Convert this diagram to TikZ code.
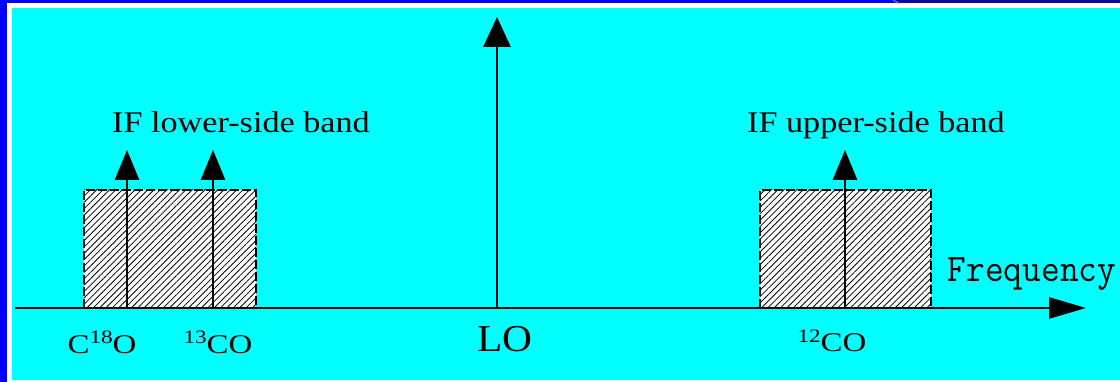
\documentclass[tikz,border=0pt]{standalone}
\usepackage{fontspec}
\setmainfont{Liberation Serif}
\usetikzlibrary{arrows.meta,patterns.meta}
\definecolor{bgcyan}{RGB}{0,255,255}
\definecolor{frameblue}{RGB}{0,0,250}
\definecolor{framenavy}{RGB}{10,10,160}
\newcommand{\mysup}[1]{\raisebox{0.36em}{\fontsize{19}{19}\selectfont #1}}
\newcommand{\lbl}[2]{\scalebox{#1}[1]{\fontsize{27}{27}\selectfont #2}}
\begin{document}
\begin{tikzpicture}[x=1pt,y=-1pt,
  band/.style={fill=white,pattern={Lines[angle=45,distance=4.5pt,line width=0.8pt]},pattern color=black},
  bandedge/.style={draw=black,line width=2.2pt,dash pattern=on 9pt off 3pt},
  line/.style={draw=black,line width=2.8pt},
  sarrow/.style={line,-{Triangle[length=30pt,width=24pt]}},
  larrow/.style={line,-{Triangle[length=30pt,width=27pt]}},
  axarrow/.style={line,-{Triangle[length=37pt,width=21pt]}},
  txt/.style={inner sep=0pt,anchor=base}]
\useasboundingbox (0,0) rectangle (1120,382);
% frame
\fill[white] (0,0) rectangle (1120,382);
\fill[frameblue] (0,0) rectangle (7,382);
\fill[frameblue] (0,0) rectangle (897,3.3);
\fill[framenavy] (897,0) rectangle (1120,3.3);
\draw[color={rgb,255:red,80;green,130;blue,255},line width=1.2pt] (893,0) -- (899,3.3);
\fill[bgcyan] (12,8.3) rectangle (1120,380);
% bands
\fill[white] (84,190) rectangle (256,308);
\fill[band] (84,190) rectangle (256,308);
\draw[bandedge] (84,308) -- (84,190) -- (256,190) -- (256,308);
\fill[white] (760,190) rectangle (931,308);
\fill[band] (760,190) rectangle (931,308);
\draw[bandedge] (760,308) -- (760,190) -- (931,190) -- (931,308);
% coordinates
\coordinate (axs) at (15,308);
\coordinate (axe) at (1086,308);
\coordinate (c18b) at (127,308);
\coordinate (c18t) at (127,150);
\coordinate (c13b) at (213,308);
\coordinate (c13t) at (213,150);
\coordinate (c12b) at (845,308);
\coordinate (c12t) at (845,150);
\coordinate (lob) at (497,308);
\coordinate (lot) at (497,17);
% arrows
\draw[sarrow] (c18b) -- (c18t);
\draw[sarrow] (c13b) -- (c13t);
\draw[sarrow] (c12b) -- (c12t);
\draw[larrow] (lob) -- (lot);
\draw[axarrow] (axs) -- (axe);
% texts
\node[txt] (lsb) at (241,133) {\scalebox{1.14}[1]{\fontsize{30}{30}\selectfont IF lower-side band}};
\node[txt] (usb) at (876,133) {\scalebox{1.14}[1]{\fontsize{30}{30}\selectfont IF upper-side band}};
\node[txt] (freq) at (1032,282) {\scalebox{0.93}[1]{\fontsize{39}{39}\selectfont\ttfamily Frequency}};
\node[txt] (lc18) at (102,353) {\lbl{1.22}{C\mysup{18}O}};
\node[txt] (lc13) at (218,353) {\lbl{1.22}{\mysup{13}CO}};
\node[txt] (llo) at (505,352) {\scalebox{1.09}[1]{\fontsize{38}{38}\selectfont LO}};
\node[txt] (lc12) at (832,352) {\lbl{1.22}{\mysup{12}CO}};
\end{tikzpicture}
\end{document}
